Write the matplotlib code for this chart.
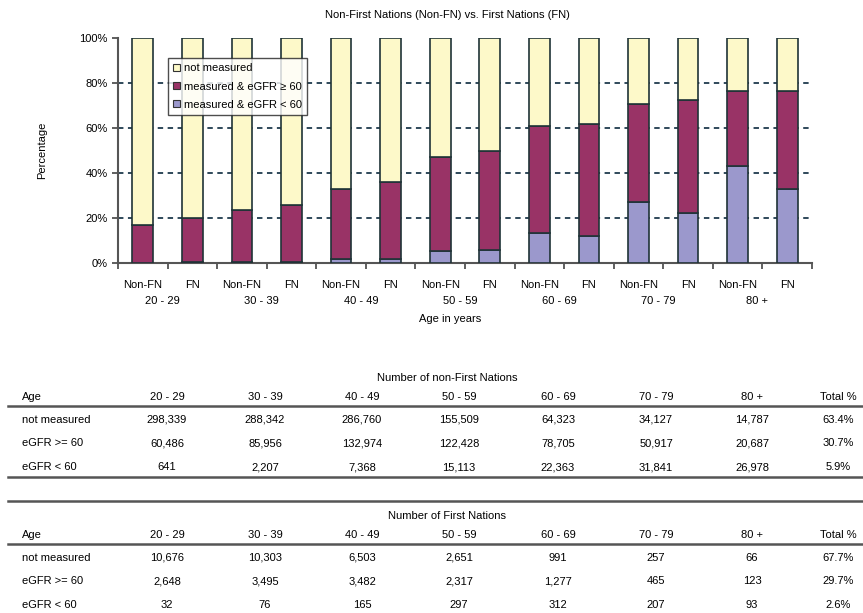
import matplotlib.pyplot as plt
import numpy as np

plt.rcParams['font.family'] = ['Liberation Sans', 'DejaVu Sans']

age_groups = ['20 - 29', '30 - 39', '40 - 49', '50 - 59', '60 - 69', '70 - 79', '80 +']
row_names = ['not measured', 'eGFR >= 60', 'eGFR < 60']

nonfn_not_measured = [298339, 288342, 286760, 155509, 64323, 34127, 14787]
nonfn_ge60 = [60486, 85956, 132974, 122428, 78705, 50917, 20687]
nonfn_lt60 = [641, 2207, 7368, 15113, 22363, 31841, 26978]
nonfn_total_pct = ['63.4%', '30.7%', '5.9%']

fn_not_measured = [10676, 10303, 6503, 2651, 991, 257, 66]
fn_ge60 = [2648, 3495, 3482, 2317, 1277, 465, 123]
fn_lt60 = [32, 76, 165, 297, 312, 207, 93]
fn_total_pct = ['67.7%', '29.7%', '2.6%']

legend_labels = ['not measured', 'measured & eGFR \u2265 60', 'measured & eGFR < 60']
col_not = '#FDF9C9'
col_ge = '#993366'
col_lt = '#9B98CC'
edge = '#1F3337'

W, H = 863, 613
fig = plt.figure(figsize=(W / 100, H / 100), dpi=100)

# ---- bar chart ----
ax = fig.add_axes([118 / W, 1 - 263 / H, (812 - 118) / W, (263 - 38) / H])

nonfn = np.array([nonfn_lt60, nonfn_ge60, nonfn_not_measured], dtype=float)
fn = np.array([fn_lt60, fn_ge60, fn_not_measured], dtype=float)
nonfn_pct = nonfn / nonfn.sum(axis=0) * 100
fn_pct = fn / fn.sum(axis=0) * 100

n = len(age_groups)
x_non = np.arange(n) * 2
x_fn = x_non + 1
bw = 0.42
colors = [col_lt, col_ge, col_not]

for xs, pct in [(x_non, nonfn_pct), (x_fn, fn_pct)]:
    bottom = np.zeros(n)
    for k in range(3):
        ax.bar(xs, pct[k], bw, bottom=bottom, color=colors[k],
               edgecolor=edge, linewidth=1.2, zorder=3)
        bottom += pct[k]

ax.set_xlim(-0.5, 2 * n - 0.5)
ax.set_ylim(0, 100)
ax.set_yticks([0, 20, 40, 60, 80, 100])
ax.set_yticklabels(['0%', '20%', '40%', '60%', '80%', '100%'], fontsize=8)
for yv in [20, 40, 60, 80]:
    ax.axhline(yv, color='#1F3A4D', linestyle=(0, (3, 2.5)), linewidth=1.3, zorder=1)

xt = np.arange(2 * n)
ax.set_xticks(xt)
ax.set_xticklabels(['Non-FN', 'FN'] * n, fontsize=8)
ax.set_xticks(np.arange(2 * n + 1) - 0.5, minor=True)
ax.tick_params(axis='x', which='major', length=0, pad=12)
ax.tick_params(axis='x', which='minor', length=4, width=1.2, color='#444444')
ax.tick_params(axis='y', length=4, width=1.2, color='#444444')
for s in ['top', 'right']:
    ax.spines[s].set_visible(False)
for s in ['left', 'bottom']:
    ax.spines[s].set_color('#555555')
    ax.spines[s].set_linewidth(1.5)

for i, g in enumerate(age_groups):
    ax.text(2 * i + 0.4, -17, g, ha='center', va='center', fontsize=8,
            clip_on=False)
ax.text(6.2, -25, 'Age in years', ha='center', va='center',
        fontsize=8, clip_on=False)

fig.text(447 / W, 1 - 15 / H, 'Non-First Nations (Non-FN) vs. First Nations (FN)',
         ha='center', va='center', fontsize=8)
fig.text(42 / W, 1 - 150 / H, 'Percentage', rotation=90, ha='center', va='center',
         fontsize=8)

handles = [plt.Rectangle((0, 0), 1, 1, facecolor=c, edgecolor='#333333', linewidth=0.8)
           for c in [col_not, col_ge, col_lt]]
leg = ax.legend(handles, legend_labels, loc='upper left', bbox_to_anchor=(0.064, 0.935),
                fontsize=8, frameon=True, fancybox=False, handlelength=0.6,
                handleheight=0.6, handletextpad=0.4, borderpad=0.45, labelspacing=0.75)
leg.get_frame().set_edgecolor('#222222')
leg.get_frame().set_linewidth(1.0)
leg.set_zorder(5)

# ---- tables (pixel coordinates) ----
tx = fig.add_axes([0, 0, 1, 1])
tx.set_xlim(0, W)
tx.set_ylim(H, 0)
tx.axis('off')

col_x = [167, 265, 362, 459, 558, 656, 752]
total_x = 838
fs = 8


def draw_table(y0, title, data, totals):
    tx.text(447, y0, title, ha='center', va='center', fontsize=fs)
    yh = y0 + 19
    tx.text(22, yh, 'Age', ha='left', va='center', fontsize=fs)
    for cx, g in zip(col_x, age_groups):
        tx.text(cx, yh, g, ha='center', va='center', fontsize=fs)
    tx.text(total_x, yh, 'Total %', ha='center', va='center', fontsize=fs)
    tx.plot([8, W], [yh + 9, yh + 9], color='#555555', linewidth=1.8)
    for r, (name, vals, tot) in enumerate(zip(row_names, data, totals)):
        yr = yh + 23 + r * 23.5
        tx.text(22, yr, name, ha='left', va='center', fontsize=fs)
        for cx, v in zip(col_x, vals):
            tx.text(cx, yr, f'{v:,}', ha='center', va='center', fontsize=fs)
        tx.text(total_x, yr, tot, ha='center', va='center', fontsize=fs)
    return yh + 23 + 2 * 23.5


y_end = draw_table(378, 'Number of non-First Nations',
                   [nonfn_not_measured, nonfn_ge60, nonfn_lt60], nonfn_total_pct)
tx.plot([8, W], [y_end + 10, y_end + 10], color='#555555', linewidth=1.8)
tx.plot([8, W], [501, 501], color='#555555', linewidth=1.8)
draw_table(516, 'Number of First Nations',
           [fn_not_measured, fn_ge60, fn_lt60], fn_total_pct)

fig.savefig('out.png', dpi=100)
